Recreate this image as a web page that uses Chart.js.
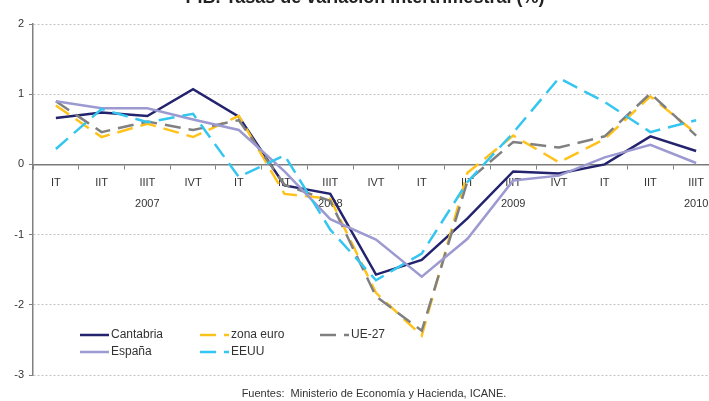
<!DOCTYPE html>
<html>
<head>
<meta charset="utf-8">
<script src="https://cdn.jsdelivr.net/npm/chart.js@4/dist/chart.umd.min.js"></script>
<style>
  html, body { margin: 0; padding: 0; background: #ffffff; }
  #wrap { position: relative; width: 709px; height: 401px; overflow: hidden; background: #ffffff; }
  #c { position: absolute; left: 0; top: 0; }
</style>
</head>
<body>
<div id="wrap"><canvas id="c" width="730" height="401"></canvas></div>
<script>
// ---- Data ----
const quarters = ['IT','IIT','IIIT','IVT','IT','IIT','IIIT','IVT','IT','IIT','IIIT','IVT','IT','IIT','IIIT'];
const years = ['2007','2008','2009','2010'];

const cantabria = [0.66, 0.74, 0.69, 1.07, 0.68, -0.30, -0.42, -1.57, -1.36, -0.77, -0.10, -0.13, 0.00, 0.40, 0.19];
const zonaEuro  = [0.84, 0.39, 0.58, 0.39, 0.69, -0.42, -0.49, -1.83, -2.44, -0.12, 0.41, 0.03, 0.36, 0.97, 0.44];
const ue27      = [0.90, 0.46, 0.61, 0.49, 0.63, -0.29, -0.52, -1.88, -2.37, -0.24, 0.32, 0.24, 0.40, 1.01, 0.41];
const espana    = [0.90, 0.80, 0.80, 0.64, 0.49, -0.10, -0.78, -1.07, -1.60, -1.06, -0.23, -0.16, 0.10, 0.28, 0.02];
const eeuu      = [0.22, 0.79, 0.60, 0.72, -0.18, 0.13, -0.93, -1.65, -1.27, -0.25, 0.45, 1.23, 0.89, 0.46, 0.63];

const seriesNames = ['Cantabria', 'zona euro', 'UE-27', 'España', 'EEUU'];
const titleText = 'PIB. Tasas de variación intertrimestral (%)';
const sourceText = 'Fuentes:  Ministerio de Economía y Hacienda, ICANE.';

// ---- Build labels: year shown under the IIIT quarter of each year ----
const labels = quarters.map((q, i) => q === 'IIIT' ? [q, years[Math.floor(i / 4)]] : q);

const DASH = [16, 8];
const styles = [
  { color: '#23236E', dash: [] },
  { color: '#FFC21A', dash: DASH },
  { color: '#808080', dash: DASH },
  { color: '#9C9AD0', dash: [] },
  { color: '#35C6F0', dash: DASH }
];
const values = [cantabria, zonaEuro, ue27, espana, eeuu];

const datasets = values.map((v, i) => ({
  label: seriesNames[i],
  data: v,
  borderColor: styles[i].color,
  backgroundColor: styles[i].color,
  borderDash: styles[i].dash,
  borderWidth: 2.5,
  pointRadius: 0,
  pointHoverRadius: 0,
  tension: 0,
  fill: false,
  order: values.length - i
}));

// ---- Custom text / legend plugin ----
const decorPlugin = {
  id: 'decor',
  afterDraw(chart) {
    const ctx = chart.ctx;
    ctx.save();
    // title (partially cut off at top, as in reference)
    ctx.font = 'bold 18px "Liberation Sans", Arial, sans-serif';
    ctx.fillStyle = '#222222';
    ctx.textAlign = 'center';
    ctx.textBaseline = 'alphabetic';
    ctx.fillText(titleText, chart.width / 2, 3);

    // legend inside plot area (3 columns)
    const colX = [80, 200, 320];
    const rowY = [335, 352];
    ctx.font = '12px "Liberation Sans", Arial, sans-serif';
    ctx.textAlign = 'left';
    ctx.textBaseline = 'middle';
    chart.data.datasets.forEach((ds, i) => {
      const x = colX[i % 3];
      const y = rowY[Math.floor(i / 3)];
      ctx.save();
      ctx.strokeStyle = ds.borderColor;
      ctx.lineWidth = 2.5;
      ctx.setLineDash(ds.borderDash || []);
      ctx.beginPath();
      ctx.moveTo(x, y);
      ctx.lineTo(x + 29, y);
      ctx.stroke();
      ctx.restore();
      ctx.fillStyle = '#333333';
      ctx.fillText(ds.label, x + 31, y);
    });

    // source
    ctx.font = '11px "Liberation Sans", Arial, sans-serif';
    ctx.textAlign = 'center';
    ctx.fillStyle = '#333333';
    ctx.fillText(sourceText, 374, 394);
    ctx.restore();
  }
};

new Chart(document.getElementById('c'), {
  type: 'line',
  data: { labels: labels, datasets: datasets },
  options: {
    responsive: false,
    animation: false,
    devicePixelRatio: 1,
    layout: { padding: { top: 24, bottom: 26, left: 0, right: 11 } },
    plugins: {
      legend: { display: false },
      tooltip: { enabled: false },
      title: { display: false }
    },
    scales: {
      x: {
        type: 'category',
        position: { y: 0 },
        offset: true,
        afterFit: (s) => { s.height = 0; },
        grid: {
          display: true,
          drawOnChartArea: false,
          drawTicks: true,
          tickLength: 4,
          offset: true,
          tickColor: '#808080',
          tickWidth: 1
        },
        border: { display: true, color: '#7a7a7a', width: 1.5 },
        ticks: {
          autoSkip: false,
          maxRotation: 0,
          minRotation: 0,
          padding: 4,
          color: '#333333',
          font: { family: '"Liberation Sans", Arial, sans-serif', size: 11, lineHeight: 1.9 }
        }
      },
      y: {
        min: -3,
        max: 2,
        afterFit: (s) => { s.width = 33; },
        ticks: {
          stepSize: 1,
          padding: 5,
          color: '#333333',
          font: { family: '"Liberation Sans", Arial, sans-serif', size: 11 }
        },
        grid: {
          color: '#C4C4C4',
          lineWidth: 1,
          tickLength: 4,
          tickColor: '#808080',
          tickBorderDash: [],
          drawTicks: true
        },
        border: { display: true, color: '#808080', width: 1.5, dash: [2, 2] }
      }
    }
  },
  plugins: [decorPlugin]
});
</script>
</body>
</html>
